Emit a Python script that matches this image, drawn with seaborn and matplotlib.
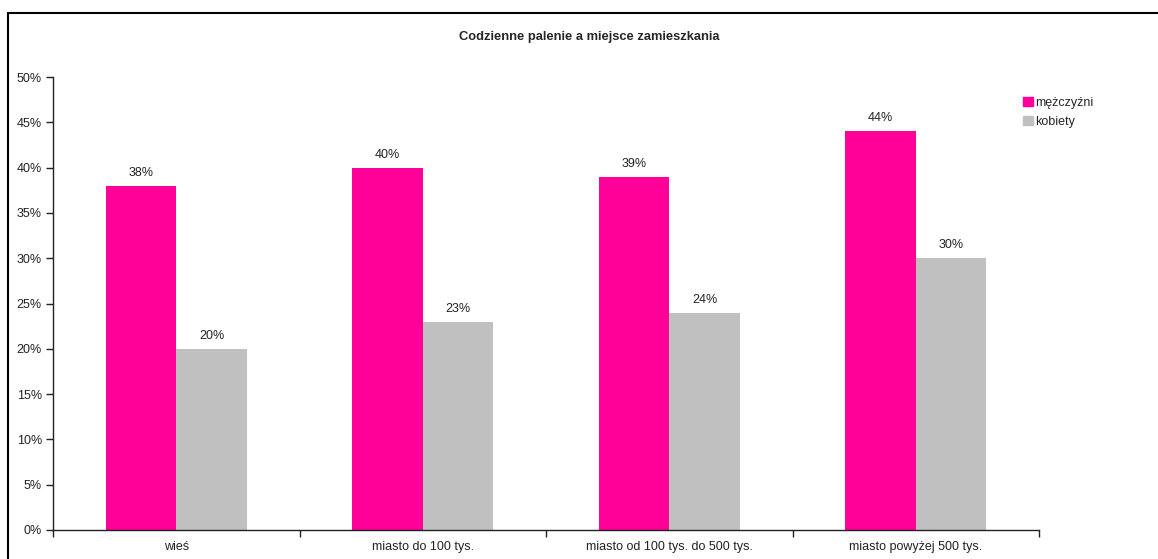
import pandas as pd
import numpy as np
import matplotlib
matplotlib.use('Agg')
import matplotlib.pyplot as plt
import seaborn as sns
from matplotlib.lines import Line2D
from matplotlib.ticker import MultipleLocator, FixedLocator

# DANE
kategorie = ["wieś", "miasto do 100 tys.", "miasto od 100 tys. do 500 tys.", "miasto powyżej 500 tys."]
mezczyzni = [38, 40, 39, 44]
kobiety   = [20, 23, 24, 30]
grupy     = ["mężczyźni", "kobiety"]
kolory    = ["#FF0099", "#C0C0C0"]

df = pd.DataFrame({
    "kategoria": kategorie * 2,
    "grupa":     [grupy[0]] * 4 + [grupy[1]] * 4,
    "wartosc":   mezczyzni + kobiety,
})

sns.set_style("white")
plt.rcParams['font.family'] = ['Liberation Sans', 'DejaVu Sans']

fig = plt.figure(figsize=(11.58, 5.59), dpi=100)
ax = fig.add_axes([53/1158, 1 - 530/559, (1039 - 53)/1158, (530 - 77)/559])

sns.barplot(data=df, x="kategoria", y="wartosc", hue="grupa",
            order=kategorie, hue_order=grupy, palette=kolory,
            width=0.572, saturation=1, ax=ax, legend=False,
            linewidth=0, edgecolor="none")

for cont in ax.containers:
    ax.bar_label(cont, fmt="%d%%", padding=5, fontsize=9, color="#222222")

ax.set_xlim(-0.5, 3.5)
ax.set_ylim(0, 50)
ax.yaxis.set_major_locator(MultipleLocator(5))
ax.set_yticklabels([f"{int(v)}%" for v in ax.get_yticks()])
ax.set_xlabel("")
ax.set_ylabel("")

# kreski na osi X miedzy kategoriami
ax.xaxis.set_minor_locator(FixedLocator(np.arange(-0.5, 4, 1)))
ax.tick_params(axis="x", which="major", bottom=True, length=0, labelsize=9, pad=8)
ax.tick_params(axis="x", which="minor", bottom=True, length=5, width=1,
               color="#222222", direction="out")
ax.tick_params(axis="y", left=True, length=5, width=1, color="#222222",
               direction="out", labelsize=9, pad=3)
ax.tick_params(labelcolor="#222222", which="both")

for s in ["top", "right"]:
    ax.spines[s].set_visible(False)
for s in ["left", "bottom"]:
    ax.spines[s].set_color("#222222")
    ax.spines[s].set_linewidth(1)

fig.text(589/1158, 1 - 37/559, "Codzienne palenie a miejsce zamieszkania",
         ha="center", va="center", fontsize=9.3, fontweight="bold")

uchwyty = [plt.Rectangle((0, 0), 1, 1, color=c) for c in kolory]
fig.legend(uchwyty, grupy, loc="upper left", bbox_to_anchor=(1017/1158, 1 - 91/559),
           frameon=False, fontsize=9, handlelength=0.75, handleheight=0.75,
           handletextpad=0.2, labelspacing=0.55, borderpad=0)

# ramka wykresu
fig.add_artist(Line2D([8/1158, 1], [1 - 13/559, 1 - 13/559], transform=fig.transFigure,
                      color="black", linewidth=1.5))
fig.add_artist(Line2D([8/1158, 8/1158], [0, 1 - 13/559], transform=fig.transFigure,
                      color="black", linewidth=1.5))

plt.savefig("out.png", dpi=100)
plt.close()
